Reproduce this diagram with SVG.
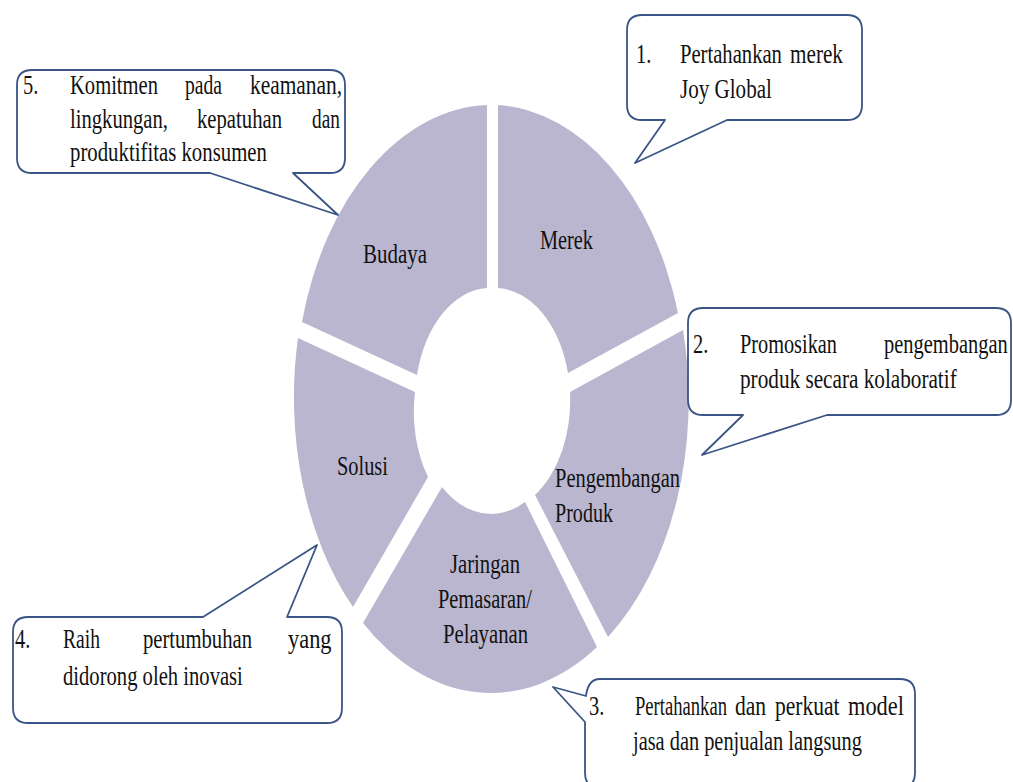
<svg xmlns="http://www.w3.org/2000/svg" width="1013" height="782" viewBox="0 0 1013 782">
<style>
.seg{fill:#bab6cf;stroke:none}
.call{fill:#ffffff;stroke:#3a5585;stroke-width:1.8;stroke-linejoin:round}
text{font-family:"Liberation Serif","Times New Roman",serif;font-size:28px;fill:#111111}
</style>
<rect width="1013" height="782" fill="#ffffff"/>
<g id="segments">
<g id="seg-merek">
<path class="seg" d="M498,105 A197.5,294 0 0,1 678,313 L568,373 A75.5,112 0 0,0 498,288 Z"/>
<text transform="translate(540,249) scale(0.725,1)">Merek</text>
</g>
<g id="seg-pengembangan">
<path class="seg" d="M683,330 A197.5,294 0 0,1 608,637 L535,495 A75.5,112 0 0,0 570,392 Z"/>
<text transform="translate(555,487) scale(0.731,1)">Pengembangan</text>
<text transform="translate(555,522) scale(0.717,1)">Produk</text>
</g>
<g id="seg-jaringan">
<path class="seg" d="M597,647 A197.5,294 0 0,1 363,623 L442,487 A75.5,112 0 0,0 525,502 Z"/>
<text transform="translate(450,573) scale(0.738,1)">Jaringan</text>
<text transform="translate(438,608) scale(0.728,1)">Pemasaran/</text>
<text transform="translate(443,643) scale(0.739,1)">Pelayanan</text>
</g>
<g id="seg-solusi">
<path class="seg" d="M353,607 A197.5,294 0 0,1 298,338 L415,392 A75.5,112 0 0,0 428,477 Z"/>
<text transform="translate(337,475) scale(0.728,1)">Solusi</text>
</g>
<g id="seg-budaya">
<path class="seg" d="M302,322 A197.5,294 0 0,1 487,105 L487,288 A75.5,112 0 0,0 417,375 Z"/>
<text transform="translate(363,263) scale(0.748,1)">Budaya</text>
</g>
</g>
<g id="callout-1">
<path class="call" d="M642,15 H847 Q862,15 862,30 V105 Q862,120 847,120 H727 L635,163 L665,120 H642 Q627,120 627,105 V30 Q627,15 642,15 Z"/>
<text transform="translate(636,63) scale(0.73,1)">1.</text>
<text transform="translate(680,63) scale(0.737,1)">Pertahankan</text>
<text transform="translate(790,63) scale(0.757,1)">merek</text>
<text transform="translate(680,98) scale(0.753,1)">Joy Global</text>
</g>
<g id="callout-2">
<path class="call" d="M703,308 H996 Q1011,308 1011,323 V400 Q1011,415 996,415 H827 L702,455 L743,415 H703 Q688,415 688,400 V323 Q688,308 703,308 Z"/>
<text transform="translate(693,353) scale(0.73,1)">2.</text>
<text transform="translate(740,353) scale(0.725,1)">Promosikan</text>
<text transform="translate(884,353) scale(0.73,1)">pengembangan</text>
<text transform="translate(740,388) scale(0.758,1)">produk secara kolaboratif</text>
</g>
<g id="callout-3">
<path class="call" d="M600,679 H900 Q915,679 915,694 V773 Q915,788 900,788 H600 Q585,788 585,773 V722 L553,687 L586,696 Q588,679 600,679 Z"/>
<text transform="translate(589,715) scale(0.73,1)">3.</text>
<text transform="translate(635,715) scale(0.665,1)">Pertahankan</text>
<text transform="translate(735,715) scale(0.77,1)">dan</text>
<text transform="translate(775,715) scale(0.77,1)">perkuat</text>
<text transform="translate(848,715) scale(0.8,1)">model</text>
<text transform="translate(633,750) scale(0.727,1)">jasa dan penjualan langsung</text>
</g>
<g id="callout-4">
<path class="call" d="M28,617 H203 L317,545 L287,617 H327 Q342,617 342,632 V708 Q342,723 327,723 H28 Q13,723 13,708 V632 Q13,617 28,617 Z"/>
<text transform="translate(15,648) scale(0.73,1)">4.</text>
<text transform="translate(63,648) scale(0.7,1)">Raih</text>
<text transform="translate(143,648) scale(0.738,1)">pertumbuhan</text>
<text transform="translate(288,648) scale(0.8,1)">yang</text>
<text transform="translate(63,685) scale(0.737,1)">didorong oleh inovasi</text>
</g>
<g id="callout-5">
<path class="call" d="M32,70 H330 Q345,70 345,85 V158 Q345,173 330,173 H293 L338,215 L210,173 H32 Q17,173 17,158 V85 Q17,70 32,70 Z"/>
<text transform="translate(23,94) scale(0.73,1)">5.</text>
<text transform="translate(70,94) scale(0.735,1)">Komitmen</text>
<text transform="translate(185,94) scale(0.7,1)">pada</text>
<text transform="translate(250,94) scale(0.765,1)">keamanan,</text>
<text transform="translate(70,128) scale(0.737,1)">lingkungan,</text>
<text transform="translate(197,128) scale(0.739,1)">kepatuhan</text>
<text transform="translate(312,128) scale(0.69,1)">dan</text>
<text transform="translate(70,161) scale(0.743,1)">produktifitas konsumen</text>
</g>
<g id="connectors"/>
</svg>
